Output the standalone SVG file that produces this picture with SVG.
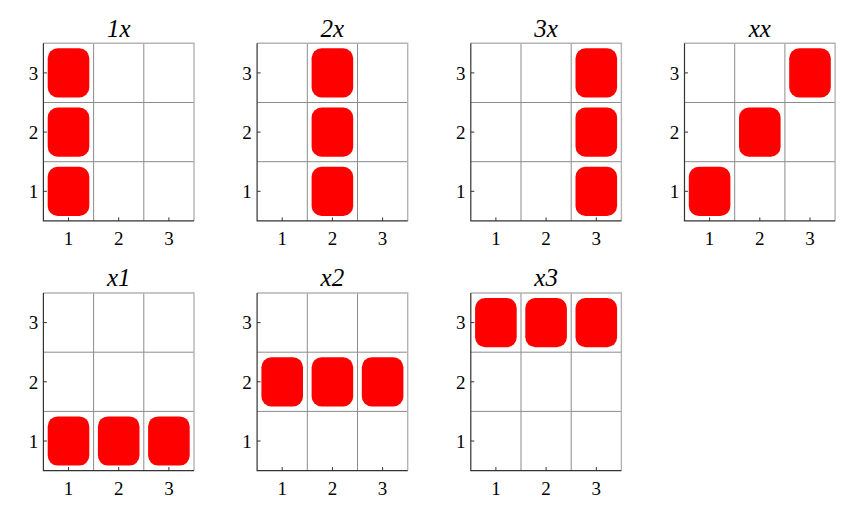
<svg xmlns="http://www.w3.org/2000/svg" width="842" height="509" viewBox="0 0 842 509" font-family="'Liberation Serif', 'Times New Roman', serif">
<style>
.bg{fill:#fff}
.grid{stroke:#8c8c8c;stroke-width:1;fill:none}
.edge{stroke:#b4b4b4;stroke-width:1.4;fill:none}
.axis{stroke:#333;stroke-width:1.2;fill:none}
.tick{stroke:#333;stroke-width:1;fill:none}
.box{fill:#ff0000}
.lbl{font-family:'Liberation Serif',serif;font-size:19px;fill:#000;text-anchor:middle}
.ttl{font-family:'Liberation Serif',serif;font-size:25px;font-style:italic;fill:#000;text-anchor:middle}
</style>
<defs>
<g id="frame">
<path class="grid" d="M50.2 0V177.6M100.4 0V177.6M0 59.2H150.6M0 118.4H150.6"/>
<path class="edge" d="M0 0H150.6V177.6"/>
<path class="axis" d="M0 0V177.6H150.6"/>
<path class="tick" d="M25.1 177.6v-3.5M75.3 177.6v-3.5M125.5 177.6v-3.5M0 29.6h3.5M0 88.8h3.5M0 148h3.5"/>
<text class="lbl" x="25.1" y="202">1</text>
<text class="lbl" x="75.3" y="202">2</text>
<text class="lbl" x="125.5" y="202">3</text>
<text class="lbl" x="-10" y="36.4">3</text>
<text class="lbl" x="-10" y="95.6">2</text>
<text class="lbl" x="-10" y="154.8">1</text>
</g>
</defs>
<rect class="bg" x="0" y="0" width="842" height="509"/>
<g id="panel-1x" transform="translate(43.4,43.3)">
<use href="#frame"/>
<text class="ttl" x="75.3" y="-6.6">1x</text>
<rect class="box" x="4.3" y="5" width="41.6" height="49.2" rx="10"/>
<rect class="box" x="4.3" y="64.2" width="41.6" height="49.2" rx="10"/>
<rect class="box" x="4.3" y="123.4" width="41.6" height="49.2" rx="10"/>
</g>
<g id="panel-2x" transform="translate(257.1,43.3)">
<use href="#frame"/>
<text class="ttl" x="75.3" y="-6.6">2x</text>
<rect class="box" x="54.5" y="5" width="41.6" height="49.2" rx="10"/>
<rect class="box" x="54.5" y="64.2" width="41.6" height="49.2" rx="10"/>
<rect class="box" x="54.5" y="123.4" width="41.6" height="49.2" rx="10"/>
</g>
<g id="panel-3x" transform="translate(470.8,43.3)">
<use href="#frame"/>
<text class="ttl" x="75.3" y="-6.6">3x</text>
<rect class="box" x="104.7" y="5" width="41.6" height="49.2" rx="10"/>
<rect class="box" x="104.7" y="64.2" width="41.6" height="49.2" rx="10"/>
<rect class="box" x="104.7" y="123.4" width="41.6" height="49.2" rx="10"/>
</g>
<g id="panel-xx" transform="translate(684.5,43.3)">
<use href="#frame"/>
<text class="ttl" x="75.3" y="-6.6">xx</text>
<rect class="box" x="4.3" y="123.4" width="41.6" height="49.2" rx="10"/>
<rect class="box" x="54.5" y="64.2" width="41.6" height="49.2" rx="10"/>
<rect class="box" x="104.7" y="5" width="41.6" height="49.2" rx="10"/>
</g>
<g id="panel-x1" transform="translate(43.4,293)">
<use href="#frame"/>
<text class="ttl" x="75.3" y="-6.6">x1</text>
<rect class="box" x="4.3" y="123.4" width="41.6" height="49.2" rx="10"/>
<rect class="box" x="54.5" y="123.4" width="41.6" height="49.2" rx="10"/>
<rect class="box" x="104.7" y="123.4" width="41.6" height="49.2" rx="10"/>
</g>
<g id="panel-x2" transform="translate(257.1,293)">
<use href="#frame"/>
<text class="ttl" x="75.3" y="-6.6">x2</text>
<rect class="box" x="4.3" y="64.2" width="41.6" height="49.2" rx="10"/>
<rect class="box" x="54.5" y="64.2" width="41.6" height="49.2" rx="10"/>
<rect class="box" x="104.7" y="64.2" width="41.6" height="49.2" rx="10"/>
</g>
<g id="panel-x3" transform="translate(470.8,293)">
<use href="#frame"/>
<text class="ttl" x="75.3" y="-6.6">x3</text>
<rect class="box" x="4.3" y="5" width="41.6" height="49.2" rx="10"/>
<rect class="box" x="54.5" y="5" width="41.6" height="49.2" rx="10"/>
<rect class="box" x="104.7" y="5" width="41.6" height="49.2" rx="10"/>
</g>
<g id="connectors"/>
</svg>
